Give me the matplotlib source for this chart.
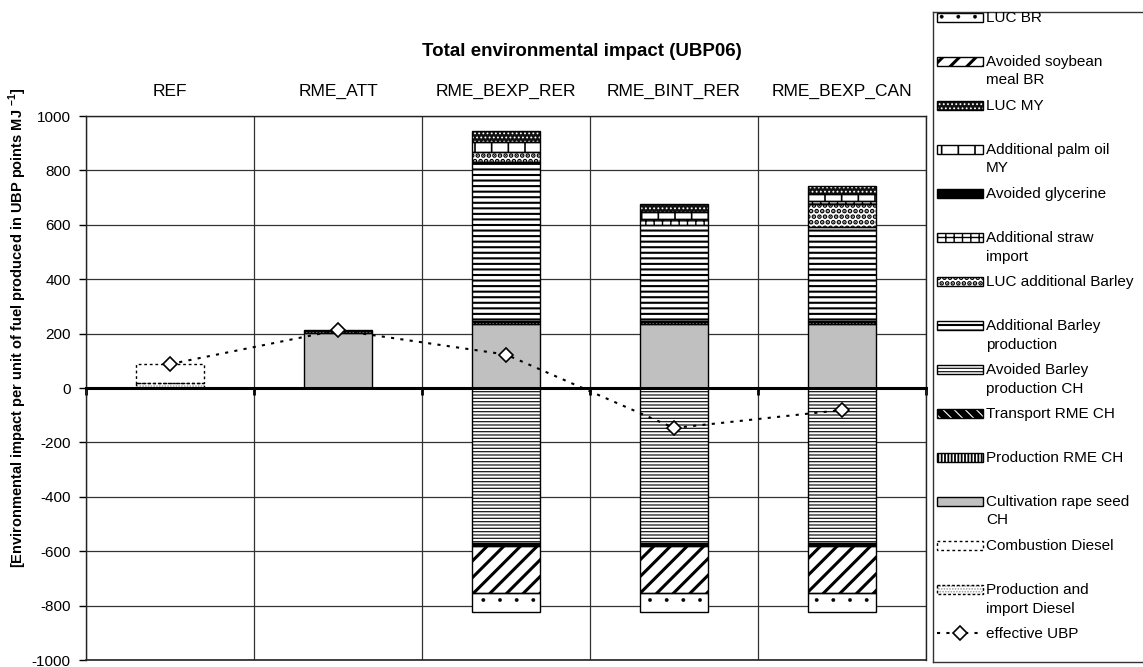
import numpy as np
import matplotlib
matplotlib.use("Agg")
import matplotlib as mpl
import matplotlib.pyplot as plt
from matplotlib.patches import Rectangle
from matplotlib import font_manager

# ---------------------------------------------------------------- data
categories = ["REF", "RME_ATT", "RME_BEXP_RER", "RME_BINT_RER", "RME_BEXP_CAN"]

prod_import_diesel = [18, 0, 0, 0, 0]
combustion_diesel = [70, 0, 0, 0, 0]
cultivation_rape = [0, 203, 236, 236, 236]
production_rme = [0, 7, 8, 8, 8]
transport_rme = [0, 3, 3, 3, 3]
avoided_barley = [0, 0, -570, -570, -570]
additional_barley = [0, 0, 583, 353, 344]
luc_add_barley = [0, 0, 38, 0, 84]
add_straw_import = [0, 0, 0, 22, 11]
avoided_glycerine = [0, 0, -12, -12, -12]
add_palm_oil = [0, 0, 37, 24, 26]
luc_my = [0, 0, 40, 29, 29]
avoided_soybean = [0, 0, -170, -170, -170]
luc_br = [0, 0, -70, -70, -70]

# stacking order (first series sits next to the zero line)
series = [
    ("Production and\nimport Diesel", prod_import_diesel),
    ("Combustion Diesel", combustion_diesel),
    ("Cultivation rape seed\nCH", cultivation_rape),
    ("Production RME CH", production_rme),
    ("Transport RME CH", transport_rme),
    ("Avoided Barley\nproduction CH", avoided_barley),
    ("Additional Barley\nproduction", additional_barley),
    ("LUC additional Barley", luc_add_barley),
    ("Additional straw\nimport", add_straw_import),
    ("Avoided glycerine", avoided_glycerine),
    ("Additional palm oil\nMY", add_palm_oil),
    ("LUC MY", luc_my),
    ("Avoided soybean\nmeal BR", avoided_soybean),
    ("LUC BR", luc_br),
]

yticks = [-1000, -800, -600, -400, -200, 0, 200, 400, 600, 800, 1000]

# ---------------------------------------------------------------- styles
styles = {
    "Production and\nimport Diesel": dict(face="white", hatch="......", hc="#9a9a9a", hlw=0.8, ls=(0, (2, 1.5))),
    "Combustion Diesel": dict(face="white", hatch=None, ls=(0, (2, 2))),
    "Cultivation rape seed\nCH": dict(face="#c0c0c0", hatch=None),
    "Production RME CH": dict(face="white", hatch="|||||", hc="black", hlw=1.3),
    "Transport RME CH": dict(face="black", hatch="\\\\\\", hc="white", hlw=0.8),
    "Avoided Barley\nproduction CH": dict(face="white", hatch="-----", hc="#1a1a1a", hlw=0.9),
    "Additional Barley\nproduction": dict(face="white", hatch="---", hc="black", hlw=1.5),
    "LUC additional Barley": dict(face="white", hatch="...", hc="black", hlw=2.4),
    "Additional straw\nimport": dict(face="white", hatch="++", hc="black", hlw=1.0),
    "Avoided glycerine": dict(face="black", hatch=None),
    "Additional palm oil\nMY": dict(face="white", hatch="+", hc="black", hlw=1.2),
    "LUC MY": dict(face="#111111", hatch="....", hc="white", hlw=0.8),
    "Avoided soybean\nmeal BR": dict(face="white", hatch="//", hc="black", hlw=2.2),
    "LUC BR": dict(face="white", hatch=".", hc="black", hlw=0.3),
}

# ---------------------------------------------------------------- fonts
plt.rcParams["font.family"] = ["Liberation Sans", "DejaVu Sans"]
plt.rcParams["axes.unicode_minus"] = False
plt.rcParams["mathtext.fontset"] = "custom"
plt.rcParams["mathtext.rm"] = "Liberation Sans"
plt.rcParams["mathtext.bf"] = "Liberation Sans:bold"

available = {f.name for f in font_manager.fontManager.ttflist}
if "Liberation Sans Narrow" in available:
    head_family = ["Liberation Sans Narrow", "Liberation Sans"]
    cat_size, title_size = 15, 16
else:
    head_family = ["Liberation Sans", "DejaVu Sans"]
    cat_size, title_size = 12.5, 13.5

W, H = 1143, 667
fig = plt.figure(figsize=(W / 100, H / 100), dpi=100)
fig.patch.set_facecolor("white")

ax = fig.add_axes([86 / W, 1 - 660 / H, 840 / W, (660 - 116) / H])

x = np.arange(len(categories))
bar_w = 0.4


def make_fill(st, builder):
    with mpl.rc_context({"hatch.linewidth": st.get("hlw", 1.0)}):
        patches = builder()
    plist = patches if hasattr(patches, "__iter__") else [patches]
    for p in plist:
        if hasattr(p, "set_hatch_linewidth"):
            p.set_hatch_linewidth(st.get("hlw", 1.0))
    return patches


pos_bottom = np.zeros(len(categories))
neg_bottom = np.zeros(len(categories))
for label, vals in series:
    v = np.asarray(vals, dtype=float)
    base = np.where(v >= 0, pos_bottom, neg_bottom)
    m = v != 0
    if m.any():
        st = styles[label]
        make_fill(st, lambda: ax.bar(
            x[m], v[m], bottom=base[m], width=bar_w, color=st["face"],
            edgecolor=st.get("hc", "black"), linewidth=0,
            hatch=st.get("hatch"), zorder=2))
        ax.bar(x[m], v[m], bottom=base[m], width=bar_w, fill=False,
               edgecolor="black", linewidth=1.0,
               linestyle=st.get("ls", "solid"), zorder=3)
    pos_bottom += np.where(v > 0, v, 0)
    neg_bottom += np.where(v < 0, v, 0)

net = pos_bottom + neg_bottom
ax.plot(x, net, linestyle=(0, (1.5, 3)), color="black", linewidth=1.5,
        marker="D", markersize=7, markerfacecolor="white",
        markeredgecolor="black", markeredgewidth=1.2, zorder=5)

# ---------------------------------------------------------------- axes
ax.set_xlim(-0.5, len(categories) - 0.5)
ax.set_ylim(-1000, 1000)
ax.set_yticks(yticks)
ax.set_yticklabels([str(t) for t in yticks])
ax.tick_params(axis="y", direction="out", length=5, width=1, pad=6,
               labelsize=11, colors="black")

ax.set_xticks(x)
ax.set_xticklabels(categories)
ax.set_xticks(np.arange(len(categories) + 1) - 0.5, minor=True)
ax.tick_params(axis="x", which="major", bottom=False, top=False,
               labelbottom=False, labeltop=True, pad=9,
               labelsize=cat_size, labelfontfamily=head_family)
ax.tick_params(axis="x", which="minor", bottom=True, top=False,
               direction="out", length=5, width=2, color="black")

ax.grid(axis="y", which="major", color="#333333", linewidth=0.9, zorder=0)
ax.grid(axis="x", which="minor", color="#333333", linewidth=0.9, zorder=0)
ax.set_axisbelow(True)

ax.spines["bottom"].set_position(("data", 0))
ax.spines["bottom"].set_linewidth(2.2)
ax.spines["bottom"].set_zorder(4)
for s in ("left", "right", "top"):
    ax.spines[s].set_linewidth(1.0)
    ax.spines[s].set_color("#222222")
ax.axhline(-1000, color="#222222", linewidth=1.2, clip_on=False, zorder=4)

fig.text(582 / W, 1 - 52 / H, "Total environmental impact (UBP06)",
         ha="center", va="center", fontsize=title_size, fontweight="bold",
         family=head_family)
fig.text(18 / W, 1 - 328 / H,
         "[Environmental impact per unit of fuel produced in UBP points MJ $^{\\mathbf{-1}}$]",
         rotation=90, ha="center", va="center", fontsize=10.5, fontweight="bold")

# ---------------------------------------------------------------- legend panel
lax = fig.add_axes([933 / W, 1 - 662 / H, (1160 - 933) / W, (662 - 12) / H])
lax.set_xlim(0, 1160 - 933)
lax.set_ylim(662, 12)
lax.set_xticks([])
lax.set_yticks([])
for s in lax.spines.values():
    s.set_linewidth(1.0)
    s.set_color("#333333")

entries = [lab for lab, _ in series][::-1]
row_y = 17 + 44.0 * np.arange(len(entries) + 1)
hx0, hw, hh = 4, 46, 9
line_gap = 18.5


def legend_label(yy, text):
    for i, part in enumerate(text.split("\n")):
        lax.text(hx0 + hw + 3, yy + 5 + i * line_gap, part, ha="left",
                 va="baseline", fontsize=11)


for lab, yy in zip(entries, row_y):
    st = styles[lab]
    make_fill(st, lambda: lax.add_patch(Rectangle(
        (hx0, yy - hh / 2), hw, hh, facecolor=st["face"],
        edgecolor=st.get("hc", "black"), linewidth=0, hatch=st.get("hatch"))))
    lax.add_patch(Rectangle((hx0, yy - hh / 2), hw, hh, fill=False,
                            edgecolor="black", linewidth=1.0,
                            linestyle=st.get("ls", "solid")))
    legend_label(yy, lab)

yy = row_y[-1]
lax.plot([hx0, hx0 + hw / 2, hx0 + hw], [yy, yy, yy], linestyle=(0, (1.5, 3)),
         color="black", linewidth=1.5, marker="D", markersize=7,
         markevery=[1], markerfacecolor="white", markeredgecolor="black",
         markeredgewidth=1.2)
legend_label(yy, "effective UBP")

fig.savefig("out.png", dpi=100, facecolor="white")
